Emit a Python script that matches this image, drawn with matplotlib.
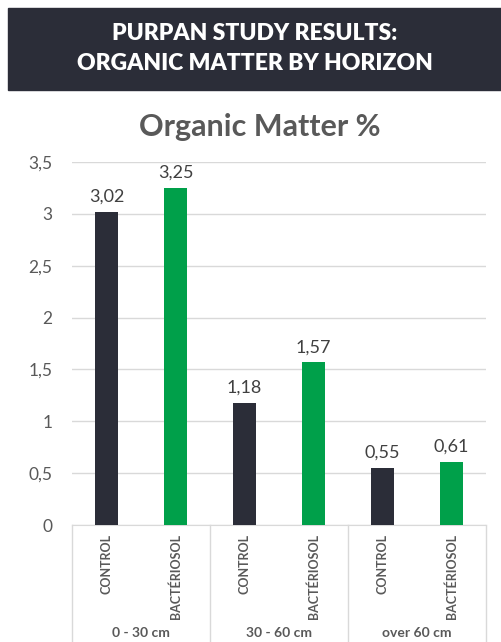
import matplotlib.pyplot as plt
from matplotlib.patches import Rectangle
from matplotlib.lines import Line2D

horizons = ["0 - 30 cm", "30 - 60 cm", "over 60 cm"]
treatments = ["CONTROL", "BACTÉRIOSOL"]
control_vals = [3.02, 1.18, 0.55]
bacterio_vals = [3.25, 1.57, 0.61]
y_ticks = [0, 0.5, 1, 1.5, 2, 2.5, 3, 3.5]

dark = "#2b2d38"
green = "#00a04a"
gray_txt = "#595959"
grid_c = "#d9d9d9"
font = "Lato"

W, H = 502, 642
fig = plt.figure(figsize=(W / 100, H / 100), dpi=100)

# banner
fig.add_artist(Rectangle((8 / W, 1 - 90 / H), 1 - 8 / W, 82 / H,
                         transform=fig.transFigure, color=dark, zorder=0))
fig.text(255 / W, 1 - 34 / H, "PURPAN STUDY RESULTS:", ha="center", va="center",
         color="white", fontsize=16.5, fontweight="heavy", family=font)
fig.text(255 / W, 1 - 63 / H, "ORGANIC MATTER BY HORIZON", ha="center", va="center",
         color="white", fontsize=16.5, fontweight="heavy", family=font)
fig.text(260 / W, 1 - 127 / H, "Organic Matter %", ha="center", va="center",
         color=gray_txt, fontsize=22, fontweight="bold", family=font)

x0, x1, y0, y1 = 72, 486, 525, 162
ax = fig.add_axes([x0 / W, 1 - y0 / H, (x1 - x0) / W, (y0 - y1) / H])

n = len(horizons)
pos_c = [i * 2 for i in range(n)]
pos_b = [i * 2 + 1 for i in range(n)]
bw = 0.33
bc = ax.bar(pos_c, control_vals, width=bw, color=dark, zorder=3)
bb = ax.bar(pos_b, bacterio_vals, width=bw, color=green, zorder=3)
for bars, vals in [(bc, control_vals), (bb, bacterio_vals)]:
    for r, v in zip(bars, vals):
        ax.annotate(f"{v:.2f}".replace(".", ","), (r.get_x() + r.get_width() / 2, v),
                    xytext=(0, 5), textcoords="offset points", ha="center", va="bottom",
                    fontsize=13, color="#404040", family=font)

ax.set_xlim(-0.5, 2 * n - 0.5)
ax.set_ylim(0, 3.5)
ax.set_yticks(y_ticks)
ax.set_yticklabels([f"{t:g}".replace(".", ",") for t in y_ticks],
                   fontsize=12.5, color=gray_txt, family=font)
ax.tick_params(axis="y", length=0, pad=14)
ax.set_xticks([])
ax.grid(axis="y", color=grid_c, linewidth=1, zorder=0)
for s in ["top", "right", "left"]:
    ax.spines[s].set_visible(False)
ax.spines["bottom"].set_color(grid_c)

# category axis boxes
for k in range(n + 1):
    xs = (x0 + k * (x1 - x0) / n) / W
    fig.add_artist(Line2D([xs, xs], [0, 1 - y0 / H], transform=fig.transFigure,
                          color=grid_c, linewidth=1))
for i in range(n):
    for j, lab in enumerate(treatments):
        p = pos_c[i] + j
        ax.text(p, -0.025, lab, rotation=90, ha="center", va="top",
                transform=ax.get_xaxis_transform(), fontsize=9, fontweight="bold",
                color=gray_txt, family=font)
    xc = (x0 + (i + 0.5) * (x1 - x0) / n) / W
    fig.text(xc, 1 - 633 / H, horizons[i], ha="center", va="center", fontsize=10,
             fontweight="bold", color=gray_txt, family=font)

fig.savefig("out.png", dpi=100)
